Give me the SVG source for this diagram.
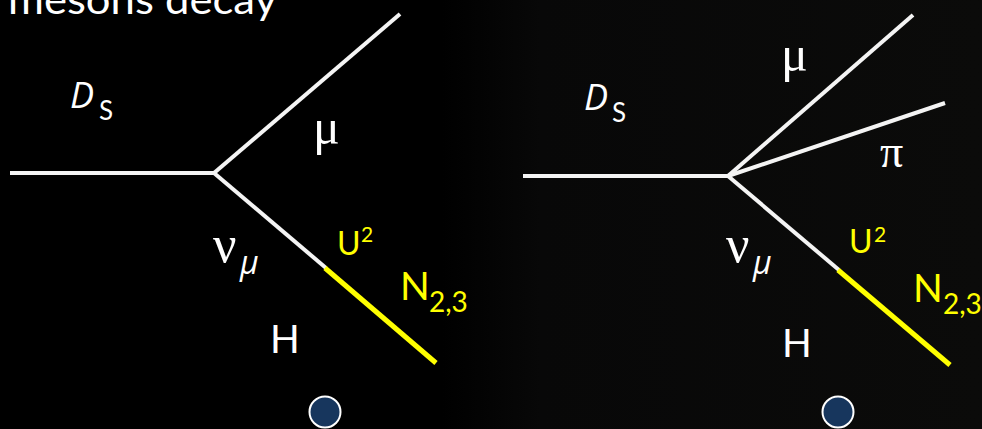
<svg xmlns="http://www.w3.org/2000/svg" width="982" height="429" viewBox="0 0 982 429">
<defs>
<linearGradient id="bg" x1="0" y1="0" x2="1" y2="0">
<stop offset="0" stop-color="#000"/>
<stop offset="0.45" stop-color="#000"/>
<stop offset="0.55" stop-color="#080808"/>
<stop offset="1" stop-color="#0b0b0a"/>
</linearGradient>
<style>
.w{stroke:#f4f4f4;stroke-width:4;fill:none}
.y{stroke:#ffff00;stroke-width:5;fill:none}
.t{font-family:Lato,"Open Sans",sans-serif;fill:#fff}
.g{font-family:"Liberation Serif","Times New Roman",serif;fill:#fff}
.yl{font-family:Lato,"Open Sans",sans-serif;fill:#ffff00}
.it{font-family:"Open Sans","Noto Sans",sans-serif;font-style:italic;fill:#fff}
.dot{fill:#17365d;stroke:#fff;stroke-width:2}
</style>
</defs>
<rect width="982" height="429" fill="url(#bg)"/>
<text id="title" class="t" x="8" y="14" font-size="40" textLength="269" lengthAdjust="spacingAndGlyphs">mesons decay</text>
<g id="connectors">
<line class="w" x1="10" y1="173" x2="214" y2="173"/>
<line class="w" x1="214" y1="173" x2="400" y2="14"/>
<line class="w" x1="214" y1="173" x2="326" y2="268"/>
<line class="y" x1="325" y1="268" x2="436" y2="363"/>
<line class="w" x1="523" y1="176" x2="728" y2="176"/>
<line class="w" x1="728" y1="176" x2="913" y2="15"/>
<line class="w" x1="728" y1="176" x2="945" y2="103"/>
<line class="w" x1="728" y1="176" x2="839" y2="270"/>
<line class="y" x1="838" y1="270" x2="950" y2="365"/>
</g>
<g id="left-labels">
<text class="it" x="70" y="108" font-size="36">D</text>
<text class="t" x="99" y="120" font-size="26">S</text>
<text class="g" x="313" y="144" font-size="50">μ</text>
<text class="g" x="213" y="262" font-size="52">ν</text>
<text class="it" x="240" y="274" font-size="32">μ</text>
<text class="yl" x="337" y="255" font-size="32">U</text>
<text class="yl" x="361" y="242" font-size="21">2</text>
<text class="yl" x="400" y="300" font-size="39">N</text>
<text class="yl" x="429" y="312" font-size="28">2,3</text>
<text class="t" x="270" y="353" font-size="39">H</text>
</g>
<g id="left-dot"><circle class="dot" cx="325" cy="412" r="15.5"/></g>
<g id="right-labels">
<text class="it" x="584" y="110" font-size="36">D</text>
<text class="t" x="612" y="122" font-size="26">S</text>
<text class="g" x="781" y="71" font-size="50">μ</text>
<text class="g" x="880" y="167" font-size="46">π</text>
<text class="g" x="726" y="262" font-size="52">ν</text>
<text class="it" x="753" y="274" font-size="32">μ</text>
<text class="yl" x="849" y="253" font-size="32">U</text>
<text class="yl" x="874" y="242" font-size="21">2</text>
<text class="yl" x="913" y="302" font-size="39">N</text>
<text class="yl" x="943" y="314" font-size="28">2,3</text>
<text class="t" x="782" y="357" font-size="39">H</text>
</g>
<g id="right-dot"><circle class="dot" cx="838" cy="412" r="15.5"/></g>
</svg>
